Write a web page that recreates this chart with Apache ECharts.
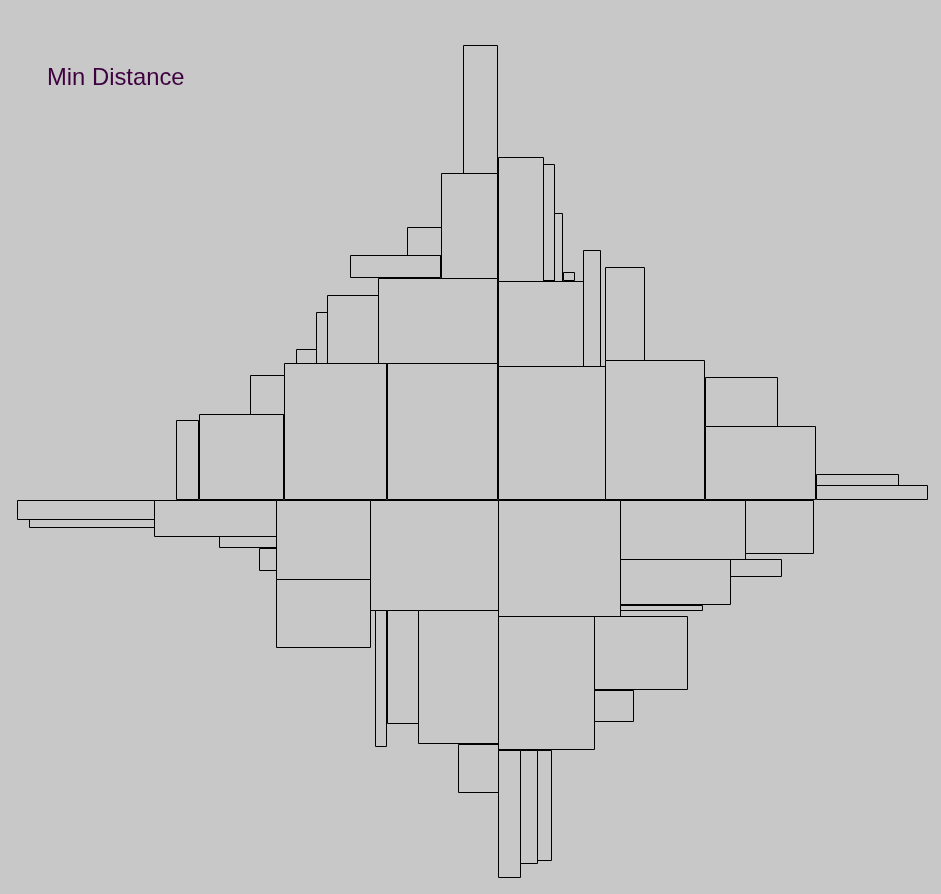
<!DOCTYPE html>
<html>
<head>
<meta charset="utf-8">
<script src="https://cdn.jsdelivr.net/npm/echarts@6/dist/echarts.min.js"></script>
<style>
html,body{margin:0;padding:0;background:#c8c8c8;}
#chart{width:941px;height:894px;}
</style>
</head>
<body>
<div id="chart"></div>
<script>
// Packed rectangles, each [xLeft, yBottom, xRight, yTop] in layout units (origin = packing centre)
const upperLeft = [
  [-35, 326, -1, 454], [-57, 221, -1, 326], [-91, 244, -57, 272], [-148, 222, -58, 244],
  [-120, 136, -1, 221], [-171, 136, -120, 204], [-182, 136, -171, 187], [-202, 136, -182, 150],
  [-111, 0, -1, 136], [-214, 0, -112, 136], [-248, 85, -214, 124], [-299, 0, -215, 85],
  [-322, 0, -300, 79]
];
const upperRight = [
  [0, 218, 45, 342], [45, 219, 56, 335], [56, 218, 64, 286], [65, 219, 76, 227],
  [0, 133, 85, 218], [85, 133, 102, 249], [107, 139, 146, 232], [0, 0, 107, 133],
  [107, 0, 206, 139], [207, 73, 279, 122], [207, 0, 317, 73], [318, 14, 400, 25],
  [318, 0, 429, 14]
];
const lowerLeft = [
  [-481, -20, -344, -1], [-469, -28, -344, -20], [-344, -37, -222, -1], [-279, -48, -222, -37],
  [-239, -71, -222, -49], [-222, -80, -128, -1], [-222, -148, -128, -80], [-128, -111, 0, -1],
  [-123, -247, -112, -111], [-111, -224, -80, -111], [-80, -244, 0, -111], [-40, -293, 0, -245]
];
const lowerRight = [
  [0, -117, 122, -1], [122, -60, 247, -1], [247, -54, 315, -1], [122, -105, 232, -60],
  [232, -77, 283, -60], [122, -111, 204, -106], [0, -250, 96, -117], [96, -190, 189, -117],
  [96, -222, 135, -191], [0, -378, 22, -251], [22, -364, 39, -251], [39, -361, 53, -251]
];
const titleText = 'Min Distance';

const allRects = upperLeft.concat(upperRight, lowerLeft, lowerRight);

const chart = echarts.init(document.getElementById('chart'), null, {renderer: 'canvas'});

function renderRect(params, api) {
  const p0 = api.coord([api.value(0), api.value(3)]);
  const p1 = api.coord([api.value(2), api.value(1)]);
  return {
    type: 'rect',
    shape: {
      x: Math.round(p0[0]) + 0.5,
      y: Math.round(p0[1]) + 0.5,
      width: Math.round(p1[0]) - Math.round(p0[0]),
      height: Math.round(p1[1]) - Math.round(p0[1])
    },
    style: { fill: '#c8c8c8', stroke: '#000000', lineWidth: 1 }
  };
}

chart.setOption({
  backgroundColor: '#c8c8c8',
  animation: false,
  title: {
    text: titleText,
    left: 47,
    top: 66,
    padding: 0,
    textStyle: {
      color: '#3f003f',
      fontFamily: 'Liberation Sans, Arial, sans-serif',
      fontSize: 23.8,
      fontWeight: 'normal'
    }
  },
  grid: { left: 0, right: 0, top: 0, bottom: 0 },
  xAxis: { type: 'value', min: -498, max: 443, show: false },
  yAxis: { type: 'value', min: -395, max: 499, show: false },
  series: [{
    type: 'custom',
    renderItem: renderRect,
    data: allRects,
    encode: { x: [0, 2], y: [1, 3] },
    clip: false
  }]
});
</script>
</body>
</html>
